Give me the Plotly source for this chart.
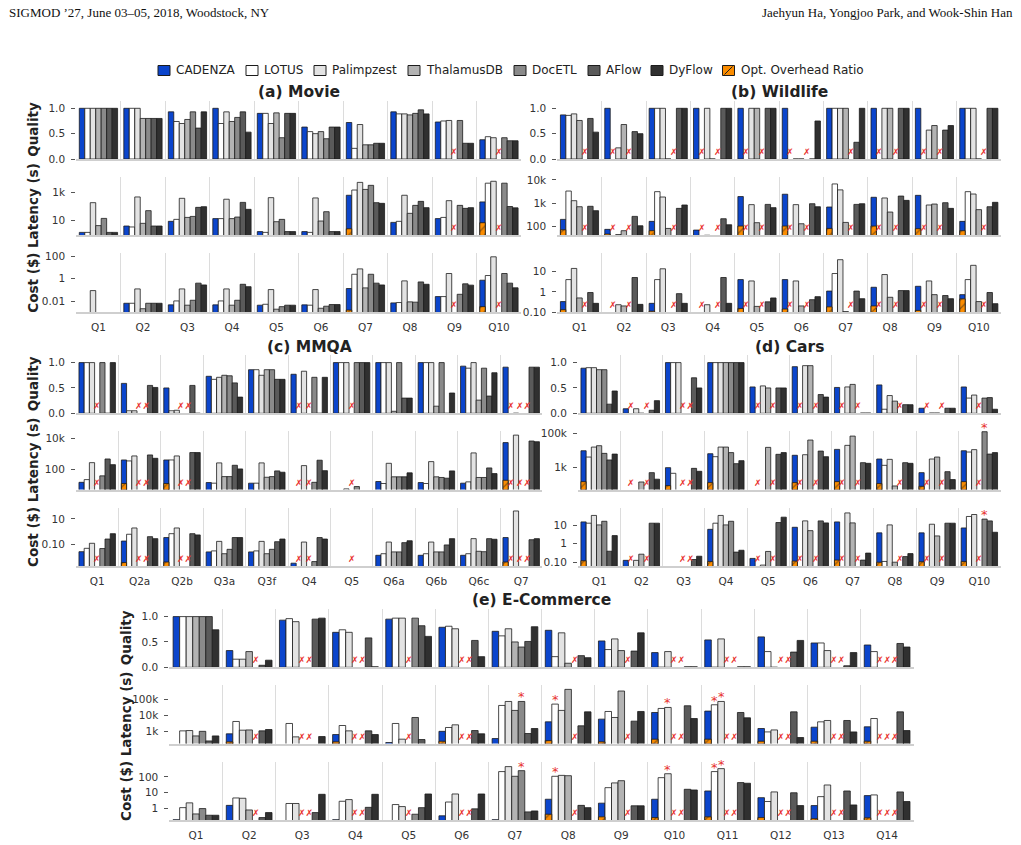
import math
import plotly.graph_objects as go

N = None
W, H = 1021, 845

# ---------------------------------------------------------------- data
SYSTEMS = ["CADENZA", "LOTUS", "Palimpzest", "ThalamusDB", "DocETL", "AFlow", "DyFlow"]
OVERHEAD_NAME = "Opt. Overhead Ratio"

MOVIE_QUERIES = ["Q1", "Q2", "Q3", "Q4", "Q5", "Q6", "Q7", "Q8", "Q9", "Q10"]
MOVIE_QUALITY = [
    [1.0, 1.0, 1.0, 1.0, 1.0, 1.0, 1.0],
    [1.0, 1.0, 1.0, 0.80, 0.80, 0.80, 0.80],
    [0.93, 0.74, 0.70, 0.78, 0.93, 0.61, 0.93],
    [1.0, 0.70, 0.93, 0.74, 0.82, 0.93, 0.53],
    [0.90, 0.90, 0.70, 0.91, 0.42, 0.90, 0.90],
    [0.63, 0.54, 0.50, 0.54, 0.40, 0.63, 0.63],
    [0.72, 0.21, 0.68, 0.28, 0.28, 0.31, 0.31],
    [0.93, 0.89, 0.89, 0.87, 0.90, 0.97, 0.89],
    [0.73, 0.75, 0.76, N, 0.76, 0.31, 0.31],
    [0.38, 0.44, 0.42, N, 0.42, 0.36, 0.36],
]
MOVIE_LATENCY = [
    [1.5, 1.5, 186, 4.5, 14.5, 1.5, 1.5],
    [4.2, 3.6, 470, 6.5, 51, 4.2, 4.2],
    [9, 12.4, 377, 17, 20, 87, 97],
    [14, 14, 325, 14, 18, 195, 63],
    [1.7, 1.5, 420, 8.5, 12.4, 1.7, 1.7],
    [1.7, 1.5, 400, 9.5, 43, 1.7, 1.7],
    [620, 1450, 5000, 1600, 3100, 186, 167],
    [7.6, 9, 620, 33, 120, 230, 83],
    [14, 17, 258, N, 120, 74, 83],
    [210, 4400, 6000, N, 4400, 100, 80],
]
MOVIE_LAT_OVERHEAD = [N, N, N, N, N, N, 2.7, N, N, 7.2]
MOVIE_COST = [
    [N, N, 0.085, N, N, N, N],
    [0.0064, 0.0064, 0.12, 0.0021, 0.0064, 0.0064, 0.0064],
    [0.0046, 0.0103, 0.12, 0.0043, 0.0118, 0.39, 0.27],
    [0.0046, 0.0103, 0.12, 0.0043, 0.0118, 0.31, 0.19],
    [0.0043, 0.0052, 0.105, 0.0019, 0.0032, 0.0043, 0.0043],
    [0.0046, 0.0043, 0.105, 0.0023, 0.0035, 0.0049, 0.0049],
    [0.13, 2.4, 7.2, 0.148, 2.4, 0.39, 0.27],
    [0.0069, 0.0074, 0.62, 0.0085, 0.008, 0.5, 0.31],
    [0.025, 0.025, 2.8, N, 0.04, 0.34, 0.26],
    [0.71, 1.85, 85, N, 2.8, 0.39, 0.15],
]
MOVIE_COST_OVERHEAD = [N, N, N, N, N, N, 0.0016, N, N, 0.0032]
MOVIE_FAILED = [[], [], [], [], [], [], [], [], [3], [3]]

WILDLIFE_QUERIES = ["Q1", "Q2", "Q3", "Q4", "Q5", "Q6", "Q7", "Q8", "Q9", "Q10"]
WILDLIFE_QUALITY = [
    [0.87, 0.86, 0.89, 0.76, N, 0.80, 0.53],
    [1.0, N, 0.22, 0.68, N, 0.54, 0.50],
    [1.0, 1.0, 1.0, 0, N, 1.0, 1.0],
    [1.0, N, 1.0, 0, N, 1.0, 1.0],
    [1.0, N, 1.0, 1.0, N, 1.0, 1.0],
    [1.0, N, 0, 0, N, 0, 0.75],
    [1.0, 1.0, 1.0, 1.0, N, 0.33, 1.0],
    [1.0, N, 1.0, 1.0, N, 1.0, 1.0],
    [1.0, N, 0.57, 0.66, N, 0.57, 0.66],
    [1.0, 1.0, 1.0, 0, N, 1.0, 1.0],
]
WILDLIFE_LATENCY = [
    [195, 3300, 1260, 690, N, 720, 465],
    [72, N, 43, 63, N, 263, 103],
    [160, 3100, 1820, 79, N, 585, 820],
    [67, N, 40, N, N, 208, 114],
    [1900, N, 850, 140, N, 870, 630],
    [2400, N, 850, 126, N, 930, 690],
    [670, 6700, 3700, 144, N, 870, 930],
    [1770, N, 1650, 405, N, 2000, 1300],
    [2150, N, 820, 900, N, 1030, 585],
    [160, 3100, 2450, 515, N, 690, 1070],
]
WILDLIFE_LAT_OVERHEAD = [69, 45, 63, N, 100, 100, 79, 100, 77, 63]
WILDLIFE_COST = [
    [0.33, 4.1, 14.7, 0.5, N, 0.93, 0.27],
    [N, N, 0.23, 0.20, N, 5.2, 0.24],
    [0.27, 4.1, 14.1, N, N, 0.82, 0.27],
    [N, N, 0.23, N, N, 5.2, 0.27],
    [4.1, N, 3.5, 0.19, N, 0.32, 0.5],
    [4.1, N, 3.5, 0.2, N, 0.41, 0.58],
    [1.1, 8.2, 40, 0.105, N, 1.1, 0.46],
    [1.7, N, 7.3, 0.54, N, 1.16, 1.16],
    [1.9, N, 3.5, 0.73, N, 0.66, 0.46],
    [0.73, 4.1, 21, 0.33, N, 0.93, 0.26],
]
WILDLIFE_COST_OVERHEAD = [0.13, N, 0.11, N, 0.15, 0.14, 0.18, 0.2, 0.12, 0.45]
WILDLIFE_FAILED = [[4], [1, 4], [4], [1, 4], [1, 4], [1, 4], [4], [1, 4], [1, 4], [4]]

MMQA_QUERIES = ["Q1", "Q2a", "Q2b", "Q3a", "Q3f", "Q4", "Q5", "Q6a", "Q6b", "Q6c", "Q7"]
MMQA_QUALITY = [
    [1.0, 1.0, 1.0, N, 1.0, 0, 1.0],
    [0.59, 0.05, 0.05, N, N, 0.55, 0.51],
    [0.50, 0.05, 0.06, N, N, 0.55, 0],
    [0.73, 0.67, 0.71, 0.75, 0.74, 0.60, 0.32],
    [0.86, 0.86, 0.75, 0.86, 0.86, 0.67, 0.67],
    [0.77, N, 0.83, N, 0.71, 0, 0.71],
    [1.0, 1.0, 1.0, N, 1.0, 1.0, 1.0],
    [1.0, 1.0, 1.0, 0.04, 1.0, 0.30, 0.30],
    [1.0, 1.0, 1.0, 0.14, 1.0, 0, 0.40],
    [0.93, 0.89, 1.0, 0.26, 0.89, 0.34, 0.80],
    [0.91, N, 0, N, N, 0.91, 0.91],
]
MMQA_LATENCY = [
    [14, 21, 270, N, 37, 470, 200],
    [405, 350, 740, N, N, 860, 520],
    [405, 405, 740, N, N, 1230, 1230],
    [13.5, 12.3, 260, 33, 33, 182, 105],
    [12.3, 12.3, 260, 30, 33, 78, 64],
    [N, N, 173, N, 14, 390, 81],
    [N, N, 5.2, N, 7.4, N, N],
    [15.8, 11.7, 245, 32, 32, 32, 58],
    [13.5, 11.7, 316, 32, 29, 26, 78],
    [12.3, 15, 1170, 29, 29, 122, 52],
    [5500, N, 17000, N, N, 7000, 6300],
]
MMQA_LAT_OVERHEAD = [N, 11.7, 11.7, N, N, N, N, N, N, N, 19]
MMQA_COST = [
    [0.026, 0.048, 0.12, N, 0.046, 0.26, 0.69],
    [0.18, 0.62, 1.95, N, N, 0.40, 0.28],
    [0.34, 0.69, 1.95, N, N, 0.69, 0.55],
    [0.025, 0.03, 0.17, 0.018, 0.04, 0.34, 0.34],
    [0.025, 0.03, 0.17, 0.018, 0.04, 0.16, 0.26],
    [0.0032, N, 0.15, N, 0.0043, 0.34, 0.26],
    [N, N, N, N, N, N, N],
    [0.0135, 0.018, 0.15, 0.025, 0.025, 0.135, 0.19],
    [0.0135, 0.018, 0.15, 0.025, 0.025, 0.089, 0.28],
    [0.0135, 0.018, 0.28, 0.028, 0.026, 0.28, 0.25],
    [0.34, N, 43, N, N, 0.23, 0.28],
]
MMQA_COST_OVERHEAD = [N, 0.0036, 0.004, N, N, N, N, N, N, N, 0.004]
MMQA_FAILED = [[3], [3, 4], [3, 4], [], [], [1, 3], [3], [], [], [], [1, 3, 4]]

CARS_QUERIES = ["Q1", "Q2", "Q3", "Q4", "Q5", "Q6", "Q7", "Q8", "Q9", "Q10"]
CARS_QUALITY = [
    [0.89, 0.90, 0.90, 0.86, 0.86, 0.18, 0.44],
    [0.09, N, 0.09, 0, N, 0.06, 0.25],
    [1.0, 1.0, 1.0, N, N, 0.70, 0.50],
    [1.0, 1.0, 1.0, 1.0, 1.0, 1.0, 1.0],
    [0.52, N, 0.54, 0.50, N, 0.50, 0.50],
    [0.92, N, 0.94, 0.94, N, 0.37, 0.32],
    [0.51, N, 0.52, 0.57, N, 0.005, 0.005],
    [0.56, 0.08, 0.35, 0.24, N, 0.17, 0.17],
    [0.10, N, 0.005, 0.005, N, 0.10, 0.10],
    [0.52, 0.30, 0.36, N, 0.30, 0.31, 0.08],
]
CARS_LATENCY = [
    [9500, 4100, 15500, 18600, 6700, 2780, 6100],
    [N, N, N, 148, N, 515, 215],
    [1000, 470, N, N, N, 910, 615],
    [6400, 4300, 15500, 15500, 7400, 1700, 2540],
    [N, N, N, 14900, N, 5900, 7400],
    [5200, N, 5600, 39500, N, 9100, 4300],
    [11400, N, 19500, 67000, N, 1940, 1780],
    [3160, 1360, 3020, 87, N, 1940, 1780],
    [515, N, 3160, 4100, N, 585, 204],
    [9500, 8000, 11000, N, 120000, 6100, 7400],
]
CARS_LAT_OVERHEAD = [155, N, 91, 136, N, 136, 155, 120, 83, 155]
CARS_COST = [
    [14.8, 12.6, 33, 10.2, 16, 0.39, 2.7],
    [0.126, N, 0.126, 0.27, N, 12.6, 12.6],
    [N, N, N, N, N, 0.14, 0.21],
    [5.9, 12.6, 33, 10.2, 16, 0.35, 0.44],
    [0.16, N, 0.07, 0.38, N, 13.7, 26.6],
    [7.6, N, 16.8, 5.0, N, 16.8, 13.1],
    [14.8, N, 45, 13.1, N, 0.13, 0.31],
    [3.8, 0.11, 10.2, 0.1, N, 0.2, 0.29],
    [3.8, N, 11.1, 2.6, N, 12.6, 12.6],
    [7.0, 29, 37, N, 21, 16.8, 4.1],
]
CARS_COST_OVERHEAD = [0.12, N, N, 0.11, N, 0.115, 0.13, 0.1, 0.106, 0.11]
CARS_FAILED = [[], [1, 4], [3, 4], [], [1, 4], [1, 4], [1, 4], [4], [1, 4], [3]]
CARS_LAT_STARS = [(9, 4)]
CARS_COST_STARS = [(9, 4)]

ECOM_QUERIES = ["Q1", "Q2", "Q3", "Q4", "Q5", "Q6", "Q7", "Q8", "Q9", "Q10", "Q11", "Q12", "Q13", "Q14"]
ECOM_QUALITY = [
    [1.0, 1.0, 1.0, 1.0, 1.0, 1.0, 0.74],
    [0.33, 0.16, 0.16, 0.31, N, 0.04, 0.14],
    [0.93, 0.96, 0.90, N, N, 0.95, 0.97],
    [0.69, 0.74, 0.69, N, N, 0.58, 0.01],
    [0.95, 0.97, 0.97, N, 0.97, 0.82, 0.61],
    [0.79, 0.81, 0.76, N, N, 0.53, 0.21],
    [0.71, 0.62, 0.76, 0.50, 0.40, 0.51, 0.80],
    [0.73, 0.21, 0.68, 0.08, N, 0.23, 0.19],
    [0.52, 0.35, 0.56, 0.33, N, 0.32, 0.68],
    [0.29, 0, 0.31, N, N, 0.01, 0.01],
    [0.54, 0, 0.56, N, N, 0.01, 0.01],
    [0.60, 0.31, 0, N, N, 0.30, 0.53],
    [0.48, 0.48, 0.33, N, N, 0.03, 0.29],
    [0.44, 0.31, N, N, N, 0.47, 0.40],
]
ECOM_LATENCY = [
    [N, 1050, 1100, 500, 980, 240, 500],
    [680, 4150, 1160, 1200, N, 1050, 1280],
    [N, 3100, 435, N, N, N, 455],
    [610, 2300, 1050, N, N, 1050, 610],
    [190, 3100, 310, N, 7450, 295, N],
    [980, 1720, 2540, N, N, 1100, 680],
    [340, 43500, 78000, 21000, 78000, 710, 1480],
    [3940, 53000, 21000, 460000, N, 2190, 17000],
    [5850, 18000, 7450, 360000, N, 4350, 18000],
    [15500, 28000, 32500, N, N, 41500, 6400],
    [19000, 48000, 78000, N, N, 15500, 7100],
    [1480, 900, 1200, N, N, 17000, 395],
    [1800, 3940, 4800, N, N, 4800, 900],
    [1900, 6400, N, N, N, 17000, 1100],
]
ECOM_LAT_OVERHEAD = [N, 210, N, 210, N, 230, N, 250, 210, 310, 310, 230, 230, 230]
ECOM_COST = [
    [0.2, 1.15, 2.3, 0.46, 1.0, 0.38, 0.38],
    [1.6, 4.7, 4.5, 0.82, N, 0.27, 0.56],
    [N, 2.1, 2.1, N, N, 0.56, 8.0],
    [0.2, 2.9, 3.7, N, N, 1.2, 8.0],
    [N, 1.8, 1.34, N, 0.44, 1.15, 8.4],
    [0.35, 2.6, 8.4, N, N, 0.96, 8.4],
    [0.2, 218, 450, 110, 250, 0.62, 0.71],
    [3.9, 110, 126, 120, N, 1.6, 1.15],
    [2.2, 21, 42, 58, N, 1.5, 1.5],
    [3.9, 90, 160, N, N, 16.6, 15],
    [13, 218, 335, N, N, 44, 40],
    [4.9, 2.8, 11.3, N, N, 10, 1.55],
    [1.55, 5.7, 31, N, N, 13, 1.7],
    [6.6, 7.3, N, N, N, 11.3, 2.8],
]
ECOM_COST_OVERHEAD = [N, N, N, N, N, N, N, 0.44, 0.3, 0.27, 0.3, 0.27, 0.23, 0.26]
ECOM_FAILED = [[], [4], [3, 4], [3, 4], [3], [3, 4], [], [4], [4], [3, 4], [3, 4], [3, 4], [3, 4], [2, 3, 4]]
ECOM_LAT_STARS = [(6, 4), (7, 1), (9, 2), (10, 1), (10, 2)]
ECOM_COST_STARS = [(6, 4), (7, 1), (9, 2), (10, 1), (10, 2)]

PANELS = [
    dict(key="a", title="(a) Movie", queries=MOVIE_QUERIES, quality=MOVIE_QUALITY,
         latency=MOVIE_LATENCY, cost=MOVIE_COST, lat_oh=MOVIE_LAT_OVERHEAD,
         cost_oh=MOVIE_COST_OVERHEAD, failed=MOVIE_FAILED, lat_stars=[], cost_stars=[]),
    dict(key="b", title="(b) Wildlife", queries=WILDLIFE_QUERIES, quality=WILDLIFE_QUALITY,
         latency=WILDLIFE_LATENCY, cost=WILDLIFE_COST, lat_oh=WILDLIFE_LAT_OVERHEAD,
         cost_oh=WILDLIFE_COST_OVERHEAD, failed=WILDLIFE_FAILED, lat_stars=[], cost_stars=[]),
    dict(key="c", title="(c) MMQA", queries=MMQA_QUERIES, quality=MMQA_QUALITY,
         latency=MMQA_LATENCY, cost=MMQA_COST, lat_oh=MMQA_LAT_OVERHEAD,
         cost_oh=MMQA_COST_OVERHEAD, failed=MMQA_FAILED, lat_stars=[], cost_stars=[]),
    dict(key="d", title="(d) Cars", queries=CARS_QUERIES, quality=CARS_QUALITY,
         latency=CARS_LATENCY, cost=CARS_COST, lat_oh=CARS_LAT_OVERHEAD,
         cost_oh=CARS_COST_OVERHEAD, failed=CARS_FAILED, lat_stars=CARS_LAT_STARS,
         cost_stars=CARS_COST_STARS),
    dict(key="e", title="(e) E-Commerce", queries=ECOM_QUERIES, quality=ECOM_QUALITY,
         latency=ECOM_LATENCY, cost=ECOM_COST, lat_oh=ECOM_LAT_OVERHEAD,
         cost_oh=ECOM_COST_OVERHEAD, failed=ECOM_FAILED, lat_stars=ECOM_LAT_STARS,
         cost_stars=ECOM_COST_STARS),
]

# ---------------------------------------------------------------- layout / style
SYSTEM_COLORS = ["#0b45cc", "#ffffff", "#e3e3e3", "#b3b3b3", "#8a8a8a", "#5a5a5a", "#303030"]
OVERHEAD_COLOR = "#fb8c00"
EDGE = "#1c1c1c"
RED = "#e8322d"
BASE_LINE = "#cfcfcf"
SEP = "#dcdcdc"
TICK_COLOR = "#333333"
FONT = "DejaVu Sans"

# geometry in pixels: x0/x1 plot extents, top of quality row, title y, y-title x
GEOMETRY = {
    "a": dict(x0=76.2, x1=521.2, top=100.7, title_y=91.7, ytitle_x=33),
    "b": dict(x0=557.3, x1=1001.0, top=100.7, title_y=91.7, ytitle_x=None),
    "c": dict(x0=76.0, x1=542.4, top=355.0, title_y=346.7, ytitle_x=33),
    "d": dict(x0=578.0, x1=1000.5, top=355.0, title_y=346.7, ytitle_x=None),
    "e": dict(x0=169.4, x1=913.7, top=609.0, title_y=600.0, ytitle_x=126),
}
ROW_SPAN = [(0.0, 58.3), (76.0, 134.6), (152.6, 211.3)]
ROW_KEYS = ["quality", "latency", "cost"]
ROW_TITLES = ["Quality", "Latency (s)", "Cost ($)"]
QUALITY_RANGE = [0, 1.15]
LOG_RANGES = {
    "a": ([-0.03, 4.1], [-2.97, 2.24]),
    "b": ([1.6, 4.14], [-1.0, 1.92]),
    "c": ([0.67, 4.5], [-2.74, 1.9]),
    "d": ([1.73, 5.12], [-1.22, 1.94]),
    "e": ([2.21, 5.94], [-0.74, 2.97]),
}
LOG_TICKS = {
    "a": (([10, 1000], ["10", "1k"]), ([0.01, 1, 100], ["0.01", "1", "100"])),
    "b": (([100, 1000, 10000], ["100", "1k", "10k"]), ([0.1, 1, 10], ["0.10", "1", "10"])),
    "c": (([100, 10000], ["100", "10k"]), ([0.1, 10], ["0.10", "10"])),
    "d": (([1000, 100000], ["1k", "100k"]), ([0.1, 1, 10], ["0.10", "1", "10"])),
    "e": (([1000, 10000, 100000], ["1k", "10k", "100k"]), ([1, 10, 100], ["1", "10", "100"])),
}
GROUP_FILL = 0.86
SLOT = GROUP_FILL / len(SYSTEMS)


def slot_x(qi, j):
    return qi - GROUP_FILL / 2 + (j + 0.5) * SLOT


def py(y):
    return 1 - y / H


def runs(indices):
    """Split sorted slot indices into runs of adjacent slots."""
    out = []
    for j in sorted(indices):
        if out and j == out[-1][-1] + 1:
            out[-1].append(j)
        else:
            out.append([j])
    return out


fig = go.Figure()
annotations = []
shapes = []
axes = {}

k = 0
for p in PANELS:
    geo = GEOMETRY[p["key"]]
    n = len(p["queries"])
    for r, key in enumerate(ROW_KEYS):
        k += 1
        xa = "x" if k == 1 else f"x{k}"
        ya = "y" if k == 1 else f"y{k}"
        top = geo["top"] + ROW_SPAN[r][0]
        bot = geo["top"] + ROW_SPAN[r][1]
        values = p[key]
        for j, name in enumerate(SYSTEMS):
            fig.add_trace(go.Bar(
                x=[slot_x(qi, j) for qi in range(n)],
                y=[row[j] for row in values],
                width=SLOT, name=name, showlegend=False,
                marker=dict(color=SYSTEM_COLORS[j], line=dict(color=EDGE, width=0.8)),
                xaxis=xa, yaxis=ya, hoverinfo="skip"))
        if r > 0:
            oh = p["lat_oh"] if r == 1 else p["cost_oh"]
            fig.add_trace(go.Bar(
                x=[slot_x(qi, 0) for qi in range(n)], y=oh, width=SLOT,
                name=OVERHEAD_NAME, showlegend=False,
                marker=dict(color=OVERHEAD_COLOR, line=dict(color=EDGE, width=0.8),
                            pattern=dict(shape="/", fgcolor="#222222", size=6,
                                         solidity=0.2, fillmode="overlay")),
                xaxis=xa, yaxis=ya, hoverinfo="skip"))

        axes["xaxis" if k == 1 else f"xaxis{k}"] = dict(
            domain=[geo["x0"] / W, geo["x1"] / W], anchor=ya,
            range=[-0.5, n - 0.5], tickmode="array", tickvals=list(range(n)),
            ticktext=p["queries"], showticklabels=(r == 2), ticks="",
            tickfont=dict(size=10.5, color=TICK_COLOR), ticklabelstandoff=4,
            showgrid=False, zeroline=False, showline=True, linecolor=BASE_LINE,
            linewidth=2, fixedrange=True,
            minor=dict(tickmode="array", tickvals=[i + 0.5 for i in range(n - 1)],
                       showgrid=True, gridcolor=SEP, gridwidth=1, ticks=""))
        ydict = dict(domain=[py(bot), py(top)], anchor=xa, showgrid=False,
                     zeroline=False, showline=False, ticks="outside", ticklen=4,
                     tickcolor="#555555", tickwidth=1, ticklabelstandoff=4,
                     tickfont=dict(size=10.5, color=TICK_COLOR), fixedrange=True)
        if r == 0:
            ydict.update(range=QUALITY_RANGE, tickmode="array", tickvals=[0, 0.5, 1.0],
                         ticktext=["0.0", "0.5", "1.0"])
        else:
            tv, tt = LOG_TICKS[p["key"]][r - 1]
            ydict.update(type="log", range=LOG_RANGES[p["key"]][r - 1], tickmode="array",
                         tickvals=tv, ticktext=tt)
        axes["yaxis" if k == 1 else f"yaxis{k}"] = ydict

        # failure marks (adjacent failed slots share one label)
        for qi, fails in enumerate(p["failed"]):
            for run in runs(fails):
                xc = sum(slot_x(qi, j) for j in run) / len(run)
                annotations.append(dict(
                    x=xc, y=0, xref=xa, yref=f"{ya} domain", text="✗" * len(run),
                    showarrow=False, yanchor="bottom", borderpad=0,
                    font=dict(size=9, color=RED), yshift=1))
        # timeout stars
        if r > 0:
            stars = p["lat_stars"] if r == 1 else p["cost_stars"]
            for qi, j in stars:
                annotations.append(dict(
                    x=slot_x(qi, j), y=math.log10(values[qi][j]), xref=xa, yref=ya,
                    text="*", showarrow=False, yanchor="bottom", borderpad=0,
                    font=dict(size=13, color=RED), yshift=-4))

        if geo["ytitle_x"] is not None:
            annotations.append(dict(
                x=geo["ytitle_x"] / W, y=py((top + bot) / 2), xref="paper", yref="paper",
                text=f"<b>{ROW_TITLES[r]}</b>", textangle=-90, showarrow=False,
                font=dict(size=13.5, color="#222222"), xanchor="center", yanchor="middle"))

    annotations.append(dict(
        x=(geo["x0"] + geo["x1"]) / 2 / W, y=py(geo["title_y"]), xref="paper", yref="paper",
        text=f"<b>{p['title']}</b>", showarrow=False, xanchor="center", yanchor="middle",
        font=dict(size=15.5, color="#222222")))

# ---------------------------------------------------------------- legend
LEGEND_X = [158, 246, 314, 408, 514, 588, 651, 722.5]
LEGEND_Y = 70.5
SQ_W, SQ_H = 12, 10
legend_names = SYSTEMS + [OVERHEAD_NAME]
legend_colors = SYSTEM_COLORS + [OVERHEAD_COLOR]
for lx, name, col in zip(LEGEND_X, legend_names, legend_colors):
    shapes.append(dict(type="rect", xref="paper", yref="paper",
                       x0=lx / W, x1=(lx + SQ_W) / W,
                       y0=py(LEGEND_Y + SQ_H / 2), y1=py(LEGEND_Y - SQ_H / 2),
                       fillcolor=col, line=dict(color=EDGE, width=1)))
    if name == OVERHEAD_NAME:
        shapes.append(dict(type="line", xref="paper", yref="paper",
                           x0=(lx + 2) / W, x1=(lx + SQ_W - 2) / W,
                           y0=py(LEGEND_Y + SQ_H / 2 - 1), y1=py(LEGEND_Y - SQ_H / 2 + 1),
                           line=dict(color="#222222", width=1)))
    annotations.append(dict(x=(lx + SQ_W + 4) / W, y=py(LEGEND_Y), xref="paper", yref="paper",
                            text=name, showarrow=False, xanchor="left", yanchor="middle",
                            font=dict(size=12, color="#222222")))

# ---------------------------------------------------------------- header
annotations.append(dict(x=7 / W, y=py(12.5), xref="paper", yref="paper",
                        text="SIGMOD ’27, June 03–05, 2018, Woodstock, NY", showarrow=False,
                        xanchor="left", yanchor="middle",
                        font=dict(family="Liberation Serif", size=13, color="#111111")))
annotations.append(dict(x=1015 / W, y=py(12.5), xref="paper", yref="paper",
                        text="Jaehyun Ha, Yongjoo Park, and Wook-Shin Han", showarrow=False,
                        xanchor="right", yanchor="middle",
                        font=dict(family="Liberation Serif", size=13, color="#111111")))

fig.update_layout(
    width=W, height=H, margin=dict(l=0, r=0, t=0, b=0, pad=0, autoexpand=False),
    paper_bgcolor="white", plot_bgcolor="white", barmode="overlay",
    showlegend=False, font=dict(family=FONT, color="#222222"),
    annotations=annotations, shapes=shapes, **axes)

fig.write_html("out.html")
